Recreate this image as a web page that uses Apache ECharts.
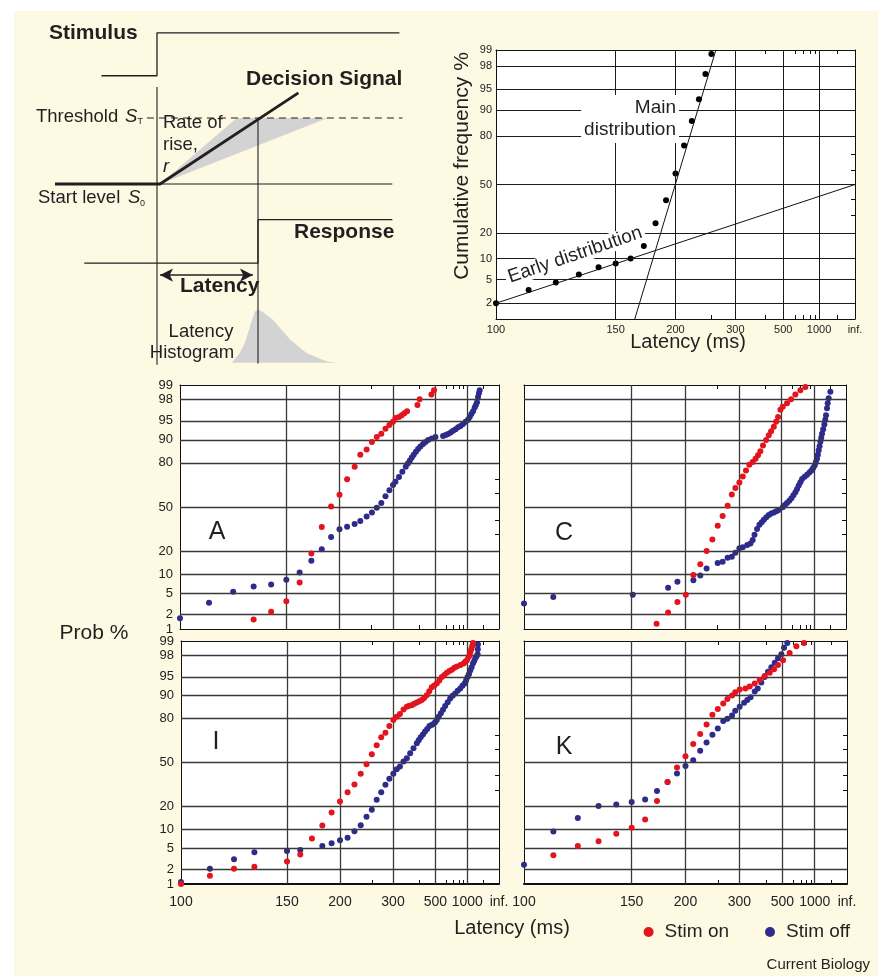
<!DOCTYPE html>
<html><head><meta charset="utf-8">
<script src="https://cdn.jsdelivr.net/npm/echarts@6/dist/echarts.min.js"></script>
<style>html,body{margin:0;padding:0;background:#fff}#c{width:878px;height:976px}</style>
</head><body><div id="c"></div>
<script>
// ---------------- DATA ----------------
var xTickMs = [100, 150, 200, 300, 500, 1000, Infinity];
var xTickText = ['100', '150', '200', '300', '500', '1000', 'inf.'];
var xMinorMs = [250, 400, 600, 700, 800, 900, 2000];
var yTickPct = [1, 2, 5, 10, 20, 50, 80, 90, 95, 98, 99];
var yTickPctTop = [2, 5, 10, 20, 50, 80, 90, 95, 98, 99];
var yMinorPct = [30, 40, 60, 70];
var gridXMs = [150, 200, 300, 500, 1000];
var gridYPct = [2, 5, 10, 20, 50, 80, 90, 95, 98];

// top-right reciprobit example
var topLatencyMs = [100, 110, 120, 130, 140, 150, 160, 170, 180, 190, 200, 210, 220, 230, 240, 250];
var topCumPct = [2.0, 3.4, 4.5, 6.0, 7.6, 8.6, 10.0, 14.4, 25.1, 39.3, 57.5, 75.0, 86.4, 93.0, 97.2, 98.8];
var mainFitMs = [163, 258];
var mainFitPct = [1, 99];
var earlyFitMs = [100, Infinity];
var earlyFitPct = [2, 50];

// panels: [latency ms, cumulative %]
var panelAOn = [[130,1.6],[140,2.3],[150,3.6],[160,7.5],[170,18.8],[180,35.2],[190,50.3],[200,59.3],[210,70.1],[221,77.9],[230,84.1],[241,86.4],[251,89.2],[261,90.9],[271,91.9],[281,93.2],[291,94.1],[301,94.8],[308,95.5],[319,95.7],[328,96.0],[337,96.3],[347,96.6],[391,97.4],[402,98.0],[472,98.4],[491,98.7]];
var panelAOff = [[100,1.7],[110,3.4],[120,5.3],[130,6.5],[140,7.0],[150,8.3],[160,10.6],[170,15.3],[180,21.0],[190,28.4],[200,33.5],[210,35.4],[221,37.3],[230,39.5],[241,42.9],[251,45.9],[261,49.5],[271,53.0],[281,58.1],[291,62.5],[301,66.3],[308,68.5],[319,71.6],[330,75.0],[342,77.9],[350,79.6],[358,81.2],[366,82.7],[374,84.1],[384,85.4],[394,86.6],[406,87.6],[420,88.5],[434,89.2],[450,89.9],[475,90.4],[502,90.9],[570,91.2],[598,91.5],[626,91.8],[660,92.2],[694,92.7],[735,93.1],[779,93.6],[830,93.9],[887,94.3],[955,94.8],[1030,95.2],[1090,95.7],[1154,96.2],[1230,96.6],[1312,97.1],[1380,97.4],[1452,97.7],[1521,98.2],[1590,98.5],[1652,98.7]];
var panelCOn = [[170,1.3],[181,2.2],[191,3.5],[201,4.7],[211,9.7],[221,13.7],[231,20.1],[241,26.8],[251,36.0],[261,43.1],[272,51.0],[282,59.4],[291,64.2],[302,68.0],[312,72.0],[322,75.7],[333,79.0],[345,80.4],[356,82.1],[366,83.8],[376,85.6],[388,88.0],[403,89.9],[417,91.4],[430,92.6],[446,93.7],[461,94.8],[474,95.7],[491,96.8],[509,97.2],[546,97.6],[586,98.0],[636,98.4],[706,98.7],[793,98.9]];
var panelCOff = [[100,3.3],[110,4.3],[151,4.7],[181,6.2],[191,7.7],[211,8.1],[221,9.6],[231,12.0],[251,14.3],[261,14.8],[272,16.7],[282,17.2],[291,19.2],[302,21.6],[312,22.1],[326,23.5],[337,24.3],[345,26.5],[352,29.8],[362,33.7],[372,36.7],[382,38.6],[392,40.4],[404,42.2],[417,43.9],[431,45.0],[446,45.9],[462,46.8],[479,47.7],[509,49.8],[527,51.5],[546,53.1],[568,54.8],[590,56.6],[612,58.8],[636,61.1],[658,63.5],[681,65.9],[706,68.2],[733,70.4],[780,71.8],[827,73.0],[880,74.4],[930,75.7],[980,77.1],[1029,78.6],[1070,80.4],[1111,82.1],[1145,84.1],[1179,86.0],[1218,87.7],[1256,89.3],[1300,90.7],[1343,91.9],[1410,93.1],[1488,94.2],[1550,95.2],[1612,96.0],[1696,97.0],[1758,97.6],[1860,98.1],[2057,98.6]];
var panelIOn = [[100,1.0],[110,1.5],[120,2.1],[130,2.3],[150,2.9],[160,3.9],[170,7.3],[180,11.4],[190,16.9],[200,22.7],[210,28.4],[220,33.7],[230,41.4],[240,48.7],[250,56.3],[260,63.0],[270,68.5],[280,71.6],[290,75.8],[301,79.2],[311,81.0],[321,82.3],[333,84.5],[345,85.7],[354,86.1],[364,86.4],[375,87.0],[387,87.5],[399,88.0],[412,88.4],[425,89.2],[440,90.1],[456,91.4],[473,92.5],[491,93.0],[511,93.5],[533,94.2],[556,94.9],[582,95.3],[610,95.7],[641,96.0],[675,96.2],[713,96.5],[755,96.7],[825,96.9],[897,97.1],[940,97.3],[991,97.5],[1040,97.8],[1081,98.0],[1115,98.3],[1146,98.5],[1185,98.7],[1219,98.9]];
var panelIOff = [[100,1.1],[110,2.1],[120,3.2],[130,4.3],[150,4.5],[160,4.7],[180,5.5],[190,6.1],[200,6.8],[210,7.5],[220,9.4],[230,11.5],[240,15.0],[250,18.3],[260,23.8],[270,28.4],[280,33.5],[290,37.8],[301,41.4],[311,44.9],[321,47.0],[333,50.8],[345,53.3],[358,57.1],[372,60.8],[387,64.4],[396,66.5],[406,68.5],[418,70.4],[430,72.3],[443,74.0],[457,75.8],[471,76.3],[485,76.9],[498,78.0],[511,79.2],[528,81.0],[547,82.7],[568,84.4],[591,86.0],[620,87.6],[651,89.0],[686,89.9],[726,90.7],[770,91.5],[820,92.2],[870,92.9],[923,93.5],[965,94.2],[1012,94.9],[1060,95.5],[1106,96.1],[1160,96.6],[1219,97.1],[1280,97.4],[1339,97.7],[1410,97.9],[1486,98.1],[1500,98.5],[1510,98.8]];
var panelKOn = [[110,3.8],[120,5.5],[130,6.6],[140,8.6],[150,10.6],[160,13.8],[170,23.1],[180,35.5],[190,46.2],[200,54.8],[210,63.8],[220,70.7],[230,76.7],[240,82.0],[250,84.7],[261,87.1],[270,88.8],[281,90.0],[289,91.1],[301,91.9],[318,92.2],[332,92.7],[350,93.5],[370,94.3],[392,95.1],[418,95.7],[443,96.3],[468,96.9],[505,97.5],[563,98.2],[638,98.7],[751,98.9]];
var panelKOff = [[100,2.5],[110,9.3],[120,14.4],[130,20.3],[140,21.0],[150,22.5],[160,23.9],[170,29.3],[180,35.5],[190,41.6],[200,47.4],[210,51.8],[220,58.9],[230,65.0],[240,70.2],[250,74.3],[261,78.6],[270,79.9],[281,81.6],[289,83.9],[301,85.7],[314,87.4],[324,88.4],[335,89.4],[350,91.3],[362,92.2],[377,93.7],[392,94.9],[409,95.9],[427,96.6],[447,97.2],[468,97.7],[492,98.1],[513,98.6],[541,98.9]];

// schematic (LATER model), x: time (onset 0, latency 1), y: signal level (S0 = 0, ST = 1)
var stimulusTrace = [[-0.55,1.64],[0,1.64],[0,2.29],[2.4,2.29]];
var onsetMarker = [[0,1.47],[0,-2.74]];
var latencyMarker = [[1,1],[1,-2.72]];
var startLevelLine = [[0,0],[2.33,0]];
var decisionTrace = [[-1.01,0],[0.03,0],[1.4,1.38]];
var thresholdLine = [[-0.1,1],[2.43,1]];
var responseTrace = [[-0.72,-1.2],[1,-1.2],[1,-0.54],[2.33,-0.54]];
var rateFan = [[0.03,0],[0.79,1],[1.69,1]];
var latencyArrow = [[0.03,-1.38],[0.95,-1.38]];
var histogramShape = [[0.74,-2.71],[0.82,-2.56],[0.87,-2.41],[0.9,-2.26],[0.94,-2.06],[0.97,-1.93],[1.0,-1.9],[1.04,-1.93],[1.15,-2.06],[1.32,-2.36],[1.48,-2.56],[1.68,-2.69],[1.78,-2.71]];

// ---------------- TRANSFORMS ----------------
function probit(p) {
  var a=[-3.969683028665376e+01,2.209460984245205e+02,-2.759285104469687e+02,1.383577518672690e+02,-3.066479806614716e+01,2.506628277459239e+00];
  var b=[-5.447609879822406e+01,1.615858368580409e+02,-1.556989798598866e+02,6.680131188771972e+01,-1.328068155288572e+01];
  var c=[-7.784894002430293e-03,-3.223964580411365e-01,-2.400758277161838e+00,-2.549671348377758e+00,4.374664141464968e+00,2.938163982698783e+00];
  var d=[7.784695709041462e-03,3.224671290700398e-01,2.445134137142996e+00,3.754408661907416e+00];
  var pl=0.02425, q, r;
  if (p < pl) { q=Math.sqrt(-2*Math.log(p)); return (((((c[0]*q+c[1])*q+c[2])*q+c[3])*q+c[4])*q+c[5])/((((d[0]*q+d[1])*q+d[2])*q+d[3])*q+1); }
  if (p > 1-pl) { q=Math.sqrt(-2*Math.log(1-p)); return -(((((c[0]*q+c[1])*q+c[2])*q+c[3])*q+c[4])*q+c[5])/((((d[0]*q+d[1])*q+d[2])*q+d[3])*q+1); }
  q=p-0.5; r=q*q; return (((((a[0]*r+a[1])*r+a[2])*r+a[3])*r+a[4])*r+a[5])*q/(((((b[0]*r+b[1])*r+b[2])*r+b[3])*r+b[4])*r+1);
}
function tx(ms) { return isFinite(ms) ? -1000 / ms : 0; }
function ty(pct) { return probit(pct / 100); }
function pts(pairs) { return pairs.map(function (d) { return [tx(d[0]), ty(d[1])]; }); }
function zipPts(ms, pct) { return ms.map(function (m, i) { return [tx(m), ty(pct[i])]; }); }
function lookup(v, vals, texts) { for (var i = 0; i < vals.length; i++) { if (Math.abs(vals[i] - v) < 1e-6) return texts[i]; } return ''; }

var FONT = '"Liberation Sans", Arial, Helvetica, sans-serif';
var INK = '#231f20';
var RED = '#e3141d';
var BLUE = '#2d2b8c';
var YMIN = ty(1), YMAX = ty(99);

var grids = [], xAxes = [], yAxes = [], series = [];

// schematic grid
grids.push({left: 35.8, top: 12.4, width: 383.8, height: 369.6, show: false, containLabel: false, outerBoundsMode: 'none'});
xAxes.push({type: 'value', gridIndex: 0, min: -1.2, max: 2.6, show: false});
yAxes.push({type: 'value', gridIndex: 0, min: -3, max: 2.6, show: false});

function schemLine(data, w, extra) {
  var s = {type: 'line', xAxisIndex: 0, yAxisIndex: 0, data: data, symbol: 'none', silent: true, z: 3,
    lineStyle: {color: INK, width: w}};
  if (extra) for (var k in extra) s[k] = extra[k];
  return s;
}
function schemPoly(points, fill) {
  return {type: 'custom', xAxisIndex: 0, yAxisIndex: 0, data: [[0, 0]], silent: true, z: 1,
    renderItem: function (params, api) {
      return {type: 'polygon', shape: {points: points.map(function (p) { return api.coord(p); })}, style: {fill: fill}};
    }};
}
series.push(schemPoly(rateFan, '#d3d3d3'));
series.push(schemPoly(histogramShape, '#d3d3d3'));
series.push(schemLine(stimulusTrace, 1.3));
series.push(schemLine(onsetMarker, 1.1));
series.push(schemLine(latencyMarker, 1.1));
series.push(schemLine(startLevelLine, 1.1));
series.push(schemLine(responseTrace, 1.3));
series.push(schemLine(thresholdLine, 1.2, {lineStyle: {color: INK, width: 1.2, type: [7, 5]}}));
series.push(schemLine(decisionTrace, 2.8));
series.push({type: 'line', xAxisIndex: 0, yAxisIndex: 0, data: [], silent: true, z: 3,
  markLine: {silent: true, symbol: ['arrow', 'arrow'], symbolSize: [10, 13], label: {show: false},
    lineStyle: {color: INK, width: 1.6, type: 'solid'}, animation: false,
    data: [[{coord: latencyArrow[0]}, {coord: latencyArrow[1]}]]}});

// probability plots
function addPlot(g, o) {
  var gi = grids.length;
  grids.push({left: g.left, top: g.top, width: g.width, height: g.height, show: true, backgroundColor: '#fff',
    borderWidth: 0, containLabel: false, outerBoundsMode: 'none'});
  var xi = xAxes.length, yi = yAxes.length;
  var xVals = xTickMs.map(tx);
  var yLab = o.yLabelPct || [];
  var yVals = yLab.map(ty);
  var yTexts = yLab.map(String);
  var line = function (w) { return {show: true, onZero: false, lineStyle: {color: '#111', width: w || 1}}; };
  var minorX = {show: true, inside: true, length: 4, customValues: xMinorMs.map(tx), lineStyle: {color: '#111', width: 1}};
  xAxes.push({type: 'value', gridIndex: gi, min: -10, max: 0, position: 'bottom', axisLine: line(o.bottomW),
    axisTick: minorX,
    axisLabel: {show: !!o.xLabels, customValues: xVals, formatter: function (v) { return lookup(v, xVals, xTickText); },
      fontSize: o.xFont || 11, margin: o.xMargin || 4, color: '#222', fontFamily: FONT},
    splitLine: {show: false}});
  xAxes.push({type: 'value', gridIndex: gi, min: -10, max: 0, position: 'top', axisLine: line(1),
    axisTick: minorX, axisLabel: {show: false}, splitLine: {show: false}});
  yAxes.push({type: 'value', gridIndex: gi, min: YMIN, max: YMAX, position: 'left', axisLine: line(1),
    axisTick: {show: false},
    axisLabel: {show: yLab.length > 0, customValues: yVals, formatter: function (v) { return lookup(v, yVals, yTexts); },
      fontSize: o.yFont || 11, margin: o.yMargin || 4, color: '#222', fontFamily: FONT},
    splitLine: {show: false}});
  yAxes.push({type: 'value', gridIndex: gi, min: YMIN, max: YMAX, position: 'right', axisLine: line(1),
    axisTick: {show: true, inside: true, length: 4, customValues: yMinorPct.map(ty), lineStyle: {color: '#111'}},
    axisLabel: {show: false}, splitLine: {show: false}});
  var ml = gridXMs.map(function (m) { return {xAxis: tx(m)}; }).concat(gridYPct.map(function (p) { return {yAxis: ty(p)}; }));
  series.push({type: 'scatter', xAxisIndex: xi, yAxisIndex: yi, data: [], silent: true, z: 2,
    markLine: {silent: true, symbol: ['none', 'none'], label: {show: false}, animation: false,
      lineStyle: {color: o.gridColor || '#333', width: o.gridW || 1, type: 'solid'}, emphasis: {disabled: true}, data: ml}});
  return {xi: xi, yi: yi};
}

// top-right example
var tr = addPlot({left: 496, top: 50, width: 359, height: 269},
  {xLabels: true, xFont: 11, xMargin: 5, yLabelPct: yTickPctTop, yFont: 11, yMargin: 4, gridColor: '#1a1a1a', gridW: 1});
series.push({type: 'line', xAxisIndex: tr.xi, yAxisIndex: tr.yi, data: zipPts(mainFitMs, mainFitPct), symbol: 'none', silent: true, z: 3, clip: true, lineStyle: {color: '#111', width: 1}});
series.push({type: 'line', xAxisIndex: tr.xi, yAxisIndex: tr.yi, data: zipPts(earlyFitMs, earlyFitPct), symbol: 'none', silent: true, z: 3, clip: true, lineStyle: {color: '#111', width: 1}});
series.push({type: 'scatter', xAxisIndex: tr.xi, yAxisIndex: tr.yi, data: zipPts(topLatencyMs, topCumPct), symbolSize: 6, silent: true, z: 4, itemStyle: {color: '#000', opacity: 1}});

function addPanel(g, o, on, off) {
  o.gridColor = '#3a3a3a'; o.gridW = 1.3;
  var p = addPlot(g, o);
  series.push({name: 'Stim off', type: 'scatter', xAxisIndex: p.xi, yAxisIndex: p.yi, data: pts(off), symbolSize: 6, z: 4, silent: true, itemStyle: {color: BLUE, opacity: 1}});
  series.push({name: 'Stim on', type: 'scatter', xAxisIndex: p.xi, yAxisIndex: p.yi, data: pts(on), symbolSize: 6, z: 5, silent: true, itemStyle: {color: RED, opacity: 1}});
}
addPanel({left: 180, top: 385, width: 319, height: 244}, {yLabelPct: yTickPct, yFont: 13, yMargin: 7}, panelAOn, panelAOff);
addPanel({left: 524, top: 385, width: 322, height: 244}, {}, panelCOn, panelCOff);
addPanel({left: 181, top: 641, width: 318, height: 243}, {yLabelPct: yTickPct, yFont: 13, yMargin: 7, xLabels: true, xFont: 14, xMargin: 11, bottomW: 2}, panelIOn, panelIOff);
addPanel({left: 524, top: 641, width: 323, height: 243}, {xLabels: true, xFont: 14, xMargin: 11, bottomW: 2}, panelKOn, panelKOff);

// ---------------- TEXT ----------------
function txt(text, x, y, size, opt) {
  opt = opt || {};
  var font = (opt.italic ? 'italic ' : '') + (opt.bold ? 'bold ' : '') + size + 'px ' + FONT;
  var st = {text: text, font: font, fill: opt.color || INK, textAlign: opt.align || 'left', align: opt.align || 'left',
    textVerticalAlign: 'middle', verticalAlign: 'middle'};
  if (opt.bg) { st.backgroundColor = opt.bg; st.padding = opt.pad || [1, 3]; }
  if (opt.lineHeight) st.lineHeight = opt.lineHeight;
  return {type: 'text', x: x, y: y, rotation: opt.rot || 0, silent: true, z: 50, style: st};
}
var graphics = [
  {type: 'rect', shape: {x: 0, y: 0, width: 878, height: 11}, style: {fill: '#fff'}, silent: true, z: 0},
  {type: 'rect', shape: {x: 0, y: 0, width: 14, height: 976}, style: {fill: '#fff'}, silent: true, z: 0},
  txt('Stimulus', 49, 33, 21, {bold: true}),
  txt('Decision Signal', 246, 79, 21, {bold: true}),
  txt('Response', 294, 232, 21, {bold: true}),
  txt('Latency', 180, 286, 21, {bold: true}),
  txt('Threshold', 36, 117, 18.5),
  txt('S', 125, 117, 18.5, {italic: true}),
  txt('T', 137.5, 122, 9),
  txt('Start level', 38, 198, 18.5),
  txt('S', 128, 198, 18.5, {italic: true}),
  txt('0', 140, 204, 9),
  txt('Rate of', 163, 123, 18.5),
  txt('rise,', 163, 145, 18.5),
  txt('r', 163, 167, 18.5, {italic: true}),
  txt('Latency', 201, 332, 18.5, {align: 'center'}),
  txt('Histogram', 192, 353, 18.5, {align: 'center'}),
  txt('Cumulative frequency %', 462, 166, 21, {align: 'center', rot: Math.PI / 2}),
  txt('Latency (ms)', 688, 342, 20, {align: 'center'}),
  txt('Main\ndistribution', 679, 119, 19, {align: 'right', bg: '#fff', pad: [2, 3], lineHeight: 22}),
  txt('Early distribution', 575, 255, 19, {align: 'center', rot: 0.33, bg: '#fff', pad: [0, 3]}),
  txt('A', 217, 532, 25, {align: 'center'}),
  txt('C', 564, 533, 25, {align: 'center'}),
  txt('I', 216, 742, 25, {align: 'center'}),
  txt('K', 564, 747, 25, {align: 'center'}),
  txt('Prob %', 94, 633, 21, {align: 'center'}),
  txt('Latency (ms)', 512, 928, 20, {align: 'center'}),
  txt('Current Biology', 870, 965, 15, {align: 'right'})
];

var chart = echarts.init(document.getElementById('c'), null, {renderer: 'canvas'});
chart.setOption({
  animation: false,
  backgroundColor: '#fdf9e3',
  grid: grids,
  xAxis: xAxes,
  yAxis: yAxes,
  series: series,
  legend: {show: true, left: 643.6, top: 922, padding: 0, itemGap: 36, itemWidth: 10, itemHeight: 10, selectedMode: false,
    icon: 'circle', data: ['Stim on', 'Stim off'],
    textStyle: {fontSize: 19, lineHeight: 20, color: INK, fontFamily: FONT, padding: [0, 0, 0, 6]}},
  graphic: graphics
});
</script></body></html>
